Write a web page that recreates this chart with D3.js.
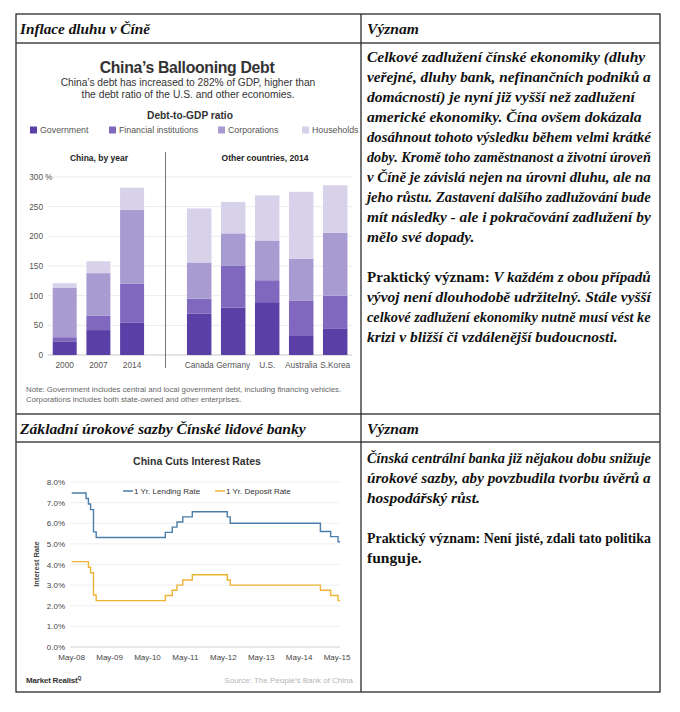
<!DOCTYPE html>
<html><head><meta charset="utf-8">
<script src="https://cdn.jsdelivr.net/npm/d3@7"></script>
<style>body{margin:0;background:#fff}svg{display:block}</style>
</head><body>
<svg id="c" width="680" height="712"></svg>
<script>
// ---------- DATA ----------
const debtKeys = ["Government","Financial institutions","Corporations","Households"];
const chinaYears = ["2000","2007","2014"];
const chinaGovernment   = [23, 42, 55];
const chinaFinancial    = [7, 24, 65];
const chinaCorporations = [83, 72, 125];
const chinaHouseholds   = [8, 20, 37];
const countries = ["Canada","Germany","U.S.","Australia","S.Korea"];
const countryGovernment   = [70, 80, 89, 32, 44];
const countryFinancial    = [25, 71, 37, 60, 56];
const countryCorporations = [61, 54, 67, 70, 106];
const countryHouseholds   = [91, 53, 76, 113, 80];
const debtTicks = [0, 50, 100, 150, 200, 250, 300];

const rateDates = ["2008-05-01","2008-09-16","2008-10-09","2008-10-30","2008-11-27","2008-12-23",
  "2010-10-20","2010-12-26","2011-02-09","2011-04-06","2011-07-07","2012-06-08","2012-07-06",
  "2014-11-22","2015-03-01","2015-05-11","2015-05-31"];
const lendingRate = [7.47,7.20,6.93,6.66,5.58,5.31,5.56,5.81,6.06,6.31,6.56,6.31,6.00,5.60,5.35,5.10,5.10];
const depositRate = [4.14,4.14,3.87,3.60,2.52,2.25,2.50,2.75,3.00,3.25,3.50,3.25,3.00,2.75,2.50,2.25,2.25];
const rateTicks = [0,1,2,3,4,5,6,7,8];
const rateXTicks = ["2008-05-01","2009-05-01","2010-05-01","2011-05-01","2012-05-01","2013-05-01","2014-05-01","2015-05-01"];

const textTop = [
  [["i","Celkové zadlužení čínské ekonomiky (dluhy"]],
  [["i","veřejné, dluhy bank, nefinančních podniků a"]],
  [["i","domácností) je nyní již vyšší než zadlužení"]],
  [["i","americké ekonomiky. Čína ovšem dokázala"]],
  [["i","dosáhnout tohoto výsledku během velmi krátké"]],
  [["i","doby. Kromě toho zaměstnanost a životní úroveň"]],
  [["i","v Číně je závislá nejen na úrovni dluhu, ale na"]],
  [["i","jeho růstu. Zastavení dalšího zadlužování bude"]],
  [["i","mít následky - ale i pokračování zadlužení by"]],
  [["i","mělo své dopady."]],
  [],
  [["b","Praktický význam: "],["i","V každém z obou případů"]],
  [["i","vývoj není dlouhodobě udržitelný. Stále vyšší"]],
  [["i","celkové zadlužení ekonomiky nutně musí vést ke"]],
  [["i","krizi v bližší či vzdálenější budoucnosti."]]
];
const textBottom = [
  [["i","Čínská centrální banka již nějakou dobu snižuje"]],
  [["i","úrokové sazby, aby povzbudila tvorbu úvěrů a"]],
  [["i","hospodářský růst."]],
  [],
  [["b","Praktický význam: Není jisté, zdali tato politika"]],
  [["b","funguje."]]
];

// ---------- DRAW ----------
const svg = d3.select("#c");
const serif = "'Liberation Serif','DejaVu Serif',serif";
const sans = "'Liberation Sans',Arial,'Noto Sans',sans-serif";

function fitW(sel, w){
  const l = sel.node().getComputedTextLength();
  const fs = parseFloat(sel.attr("font-size"));
  sel.attr("font-size", fs * w / l);
  return sel;
}
function clampW(sel, w){
  const l = sel.node().getComputedTextLength();
  const fs = parseFloat(sel.attr("font-size"));
  if (l > w) sel.attr("font-size", fs * w / l);
  return sel;
}

// table
const T = {l:16, r:660, t:14, b:692, mid:361, h1:43, h2:414, h3:442};
svg.append("rect").attr("x",T.l).attr("y",T.t).attr("width",T.r-T.l).attr("height",T.b-T.t)
  .attr("fill","none").attr("stroke","#2a2a2a").attr("stroke-width",1.3);
[T.h1,T.h2,T.h3].forEach(y=>svg.append("line").attr("x1",T.l).attr("x2",T.r).attr("y1",y).attr("y2",y)
  .attr("stroke","#444").attr("stroke-width",1.5));
svg.append("line").attr("x1",T.mid).attr("x2",T.mid).attr("y1",T.t).attr("y2",T.b).attr("stroke","#2a2a2a").attr("stroke-width",1.3);

function header(x,y,txt,w){
  const t = svg.append("text").attr("x",x).attr("y",y).attr("font-family",serif).attr("font-size",17)
    .attr("font-weight","bold").attr("font-style","italic").attr("fill","#111").text(txt);
  if (w) fitW(t,w);
}
header(20,34,"Inflace dluhu v Číně",130);
header(367,34,"Význam",52);
header(20,434,"Základní úrokové sazby Čínské lidové banky",286);
header(367,434,"Význam",52);

function para(lines, x, y0, lh){
  lines.forEach((segs,i)=>{
    if (!segs.length) return;
    const t = svg.append("text").attr("x",x).attr("y",y0+i*lh).attr("font-family",serif)
      .attr("font-size",15.5).attr("font-weight","bold").attr("fill","#111");
    segs.forEach(s=>t.append("tspan").attr("font-style", s[0]==="i"?"italic":"normal").text(s[1]));
    clampW(t, 284);
  });
}
para(textTop, 367, 62, 20);
para(textBottom, 367, 463, 20);

// ---------- Chart 1: stacked bars ----------
const g1 = svg.append("g");
fitW(g1.append("text").attr("x",187).attr("y",73).attr("text-anchor","middle").attr("font-family",sans)
  .attr("font-size",16).attr("font-weight","bold").attr("fill","#333").attr("letter-spacing",-0.3)
  .text("China’s Ballooning Debt"),175);
fitW(g1.append("text").attr("x",188).attr("y",86).attr("text-anchor","middle").attr("font-family",sans)
  .attr("font-size",11).attr("fill","#333").text("China’s debt has increased to 282% of GDP, higher than"),255);
fitW(g1.append("text").attr("x",188).attr("y",97.5).attr("text-anchor","middle").attr("font-family",sans)
  .attr("font-size",11).attr("fill","#333").text("the debt ratio of the U.S. and other economies."),213);
fitW(g1.append("text").attr("x",190).attr("y",119).attr("text-anchor","middle").attr("font-family",sans)
  .attr("font-size",10).attr("font-weight","bold").attr("fill","#333").text("Debt-to-GDP ratio"),86);

const color = d3.scaleOrdinal().domain(debtKeys).range(["#5a3fa6","#7f68be","#a89bd2","#d8d1ea"]);
const legX = [30,109,218,302];
debtKeys.forEach((k,i)=>{
  g1.append("rect").attr("x",legX[i]).attr("y",126.5).attr("width",7).attr("height",7).attr("fill",color(k));
  g1.append("text").attr("x",legX[i]+10).attr("y",133).attr("font-family",sans).attr("font-size",8.8)
    .attr("fill","#555").text(k);
});

const y1 = d3.scaleLinear().domain([0,300]).range([355,177]);
debtTicks.forEach(v=>{
  g1.append("line").attr("x1",48).attr("x2",352).attr("y1",y1(v)).attr("y2",y1(v))
    .attr("stroke", v===0 ? "#c8c8c8" : "#ebebeb").attr("stroke-width",1);
  g1.append("text").attr("x",43).attr("y",y1(v)+3).attr("text-anchor","end").attr("font-family",sans)
    .attr("font-size",8.3).attr("fill","#555").text(v);
  if (v===300) g1.append("text").attr("x",45).attr("y",y1(v)+3).attr("font-family",sans)
    .attr("font-size",8.3).attr("fill","#555").text("%");
});
g1.append("line").attr("x1",165.5).attr("x2",165.5).attr("y1",152).attr("y2",368).attr("stroke","#777");
g1.append("text").attr("x",99).attr("y",161).attr("text-anchor","middle").attr("font-family",sans)
  .attr("font-size",8.5).attr("font-weight","bold").attr("fill","#222").text("China, by year");
g1.append("text").attr("x",265).attr("y",161).attr("text-anchor","middle").attr("font-family",sans)
  .attr("font-size",8.5).attr("font-weight","bold").attr("fill","#222").text("Other countries, 2014");

function stackedPanel(cats, gov, fin, corp, hh, range, pIn, pOut){
  const rows = cats.map((c,i)=>({cat:c,"Government":gov[i],"Financial institutions":fin[i],"Corporations":corp[i],"Households":hh[i]}));
  const series = d3.stack().keys(debtKeys)(rows);
  const x = d3.scaleBand().domain(cats).range(range).paddingInner(pIn).paddingOuter(pOut);
  g1.append("g").selectAll("g").data(series).join("g").attr("fill",d=>color(d.key))
    .selectAll("rect").data(d=>d).join("rect")
    .attr("x",d=>x(d.data.cat)).attr("width",x.bandwidth())
    .attr("y",d=>y1(d[1])).attr("height",d=>y1(d[0])-y1(d[1]));
  cats.forEach(c=>g1.append("text").attr("x",x(c)+x.bandwidth()/2).attr("y",368).attr("text-anchor","middle")
    .attr("font-family",sans).attr("font-size",8.3).attr("fill","#555").text(c));
}
stackedPanel(chinaYears, chinaGovernment, chinaFinancial, chinaCorporations, chinaHouseholds, [48,148.8], 0.288, 0.14);
stackedPanel(countries, countryGovernment, countryFinancial, countryCorporations, countryHouseholds, [172,362.4], 0.28, 0.44);

g1.append("text").attr("x",26).attr("y",392).attr("font-family",sans).attr("font-size",7.8).attr("fill","#666")
  .text("Note: Government includes central and local government debt, including financing vehicles.");
g1.append("text").attr("x",26).attr("y",402).attr("font-family",sans).attr("font-size",7.8).attr("fill","#666")
  .text("Corporations includes both state-owned and other enterprises.");

// ---------- Chart 2: interest rates ----------
const g2 = svg.append("g");
const parse = d3.timeParse("%Y-%m-%d");
const xR = d3.scaleTime().domain([parse("2008-05-01"), parse("2015-05-01")]).range([71.7,337]);
const yR = d3.scaleLinear().domain([0,8]).range([647,482]);
g2.append("text").attr("x",197).attr("y",465).attr("text-anchor","middle").attr("font-family",sans)
  .attr("font-size",10.5).attr("font-weight","bold").attr("fill","#333").text("China Cuts Interest Rates");
rateTicks.forEach(v=>{
  g2.append("line").attr("x1",70).attr("x2",340).attr("y1",yR(v)).attr("y2",yR(v))
    .attr("stroke", v===0 ? "#d4d4d4" : "#efefef");
  g2.append("text").attr("x",65).attr("y",yR(v)+3).attr("text-anchor","end").attr("font-family",sans)
    .attr("font-size",8).attr("fill","#444").text(d3.format(".1f")(v)+"%");
});
rateXTicks.forEach(s=>{
  g2.append("text").attr("x",xR(parse(s))).attr("y",660).attr("text-anchor","middle").attr("font-family",sans)
    .attr("font-size",8).attr("fill","#444").text(d3.timeFormat("%b-%y")(parse(s)));
});
g2.append("text").attr("transform","translate(39,564) rotate(-90)").attr("text-anchor","middle")
  .attr("font-family",sans).attr("font-size",7.5).attr("font-weight","bold").attr("fill","#444").text("Interest Rate");

const rateLine = vals => d3.line().curve(d3.curveStepAfter).x((d,i)=>xR(parse(rateDates[i]))).y((d)=>yR(d))(vals);
g2.append("path").attr("d",rateLine(lendingRate)).attr("fill","none").attr("stroke","#4a7fab").attr("stroke-width",1.4);
g2.append("path").attr("d",rateLine(depositRate)).attr("fill","none").attr("stroke","#eeb436").attr("stroke-width",1.4);

[[123,"#4a7fab","1 Yr. Lending Rate"],[215,"#eeb436","1 Yr. Deposit Rate"]].forEach(([x,c,t])=>{
  g2.append("line").attr("x1",x).attr("x2",x+10).attr("y1",491).attr("y2",491).attr("stroke",c).attr("stroke-width",1.5);
  g2.append("text").attr("x",x+11).attr("y",494).attr("font-family",sans).attr("font-size",8).attr("fill","#333").text(t);
});

const mr = g2.append("text").attr("x",26).attr("y",683).attr("font-family",sans).attr("font-size",8)
  .attr("font-weight","bold").attr("fill","#333").attr("letter-spacing",-0.2);
mr.append("tspan").text("Market Realist");
mr.append("tspan").attr("font-size",5).attr("dy",-3).text("Q");
g2.append("text").attr("x",353).attr("y",683).attr("text-anchor","end").attr("font-family",sans)
  .attr("font-size",8).attr("fill","#b5b5b5").text("Source: The People’s Bank of China");
</script>
</body></html>
